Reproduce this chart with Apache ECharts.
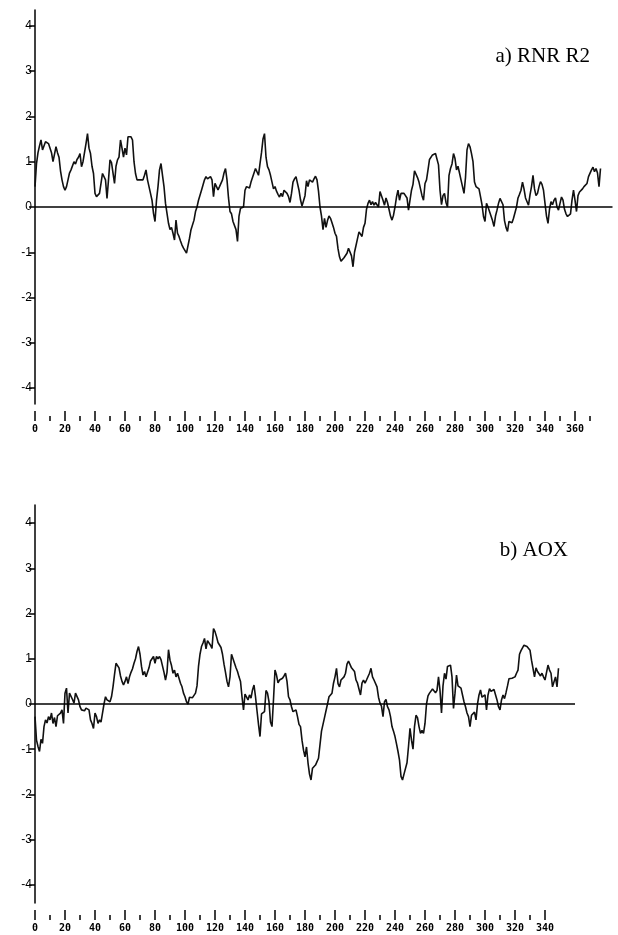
<!DOCTYPE html>
<html>
<head>
<meta charset="utf-8">
<title>RNR R2 / AOX</title>
<script src="https://cdn.jsdelivr.net/npm/echarts@6/dist/echarts.min.js"></script>
<style>
html,body{margin:0;padding:0;background:#fff;}
#charts{width:618px;height:935px;}
</style>
</head>
<body>
<div id="charts"></div>
<script>
// a) RNR R2 - one value per residue
var rnrValues = [
	0.45, 0.96, 1.2, 1.35, 1.48, 1.26, 1.3, 1.44, 1.42, 1.4,
	1.38, 1.2, 1.0, 0.96, 1.33, 1.2, 1.1, 0.8, 0.6, 0.45,
	0.37, 0.45, 0.6, 0.75, 0.82, 0.8, 1.0, 0.95, 1.05, 1.1,
	1.18, 0.89, 1.0, 1.04, 1.4, 1.62, 1.3, 1.18, 0.9, 0.74,
	0.3, 0.23, 0.25, 0.3, 0.52, 0.74, 0.7, 0.6, 0.19, 0.6,
	1.04, 0.98, 1.0, 0.52, 0.9, 1.04, 1.1, 1.48, 1.3, 1.1,
	1.3, 1.15, 1.55, 1.58, 1.55, 1.48, 1.0, 0.74, 0.6, 0.62,
	0.6, 0.62, 0.6, 0.7, 0.82, 0.6, 0.45, 0.3, 0.15, -0.14,
	-0.32, 0.15, 0.45, 0.82, 0.96, 0.7, 0.45, 0.08, -0.14, -0.36,
	-0.5, -0.45, -0.58, -0.73, -0.29, -0.58, -0.65, -0.75, -0.84, -0.91,
	-0.95, -1.02, -1.05, -0.69, -0.5, -0.48, -0.29, -0.1, 0.0, 0.15,
	0.15, 0.37, 0.4, 0.6, 0.67, 0.62, 0.64, 0.67, 0.6, 0.23,
	0.52, 0.45, 0.38, 0.45, 0.48, 0.6, 0.75, 0.85, 0.6, 0.2,
	-0.1, -0.15, -0.32, -0.28, -0.5, -0.76, -0.2, -0.03, -0.02, 0.0,
	0.37, 0.45, 0.49, 0.42, 0.55, 0.65, 0.75, 0.85, 0.89, 0.7,
	0.96, 1.2, 1.5, 1.62, 1.1, 0.89, 0.82, 0.7, 0.55, 0.4,
	0.45, 0.35, 0.28, 0.22, 0.3, 0.23, 0.37, 0.34, 0.3, 0.23,
	0.1, 0.3, 0.55, 0.62, 0.67, 0.66, 0.37, 0.16, 0.02, -0.02,
	0.25, 0.58, 0.45, 0.6, 0.62, 0.55, 0.62, 0.68, 0.6, 0.35,
	0.0, -0.2, -0.5, -0.25, -0.45, -0.3, -0.2, -0.25, -0.35, -0.45,
	-0.58, -0.65, -0.92, -1.1, -1.2, -1.18, -1.12, -1.08, -1.02, -0.91,
	-0.95, -1.08, -1.32, -1.0, -0.85, -0.7, -0.55, -0.55, -0.65, -0.45,
	-0.36, -0.05, 0.08, 0.15, 0.05, 0.12, 0.04, 0.1, 0.12, 0.0,
	0.34, 0.34, 0.15, 0.04, 0.2, 0.1, -0.05, -0.2, -0.29, -0.18,
	0.0, 0.22, 0.37, 0.15, 0.3, 0.34, 0.3, 0.26, 0.2, -0.07,
	0.15, 0.37, 0.5, 0.8, 0.78, 0.65, 0.55, 0.4, 0.25, 0.15,
	0.52, 0.6, 0.82, 1.05, 1.03, 1.15, 1.16, 1.18, 1.15, 0.93,
	0.37, 0.05, 0.25, 0.3, 0.1, 0.0, 0.7, 0.85, 0.95, 1.18,
	1.07, 0.82, 0.9, 0.75, 0.6, 0.45, 0.3, 0.65, 1.26, 1.4,
	1.33, 1.18, 1.0, 0.55, 0.45, 0.45, 0.4, 0.23, 0.05, -0.21,
	-0.32, 0.08, 0.0, -0.1, -0.2, -0.3, -0.43, -0.2, -0.07, 0.08,
	0.19, 0.15, 0.05, -0.3, -0.45, -0.54, -0.32, -0.28, -0.35, -0.25,
	-0.25, 0.0, 0.2, 0.28, 0.37, 0.55, 0.4, 0.2, 0.22, 0.04,
	0.27, 0.45, 0.7, 0.4, 0.25, 0.3, 0.45, 0.56, 0.5, 0.37,
	0.08, -0.2, -0.36, -0.05, 0.12, 0.05, 0.15, 0.2, 0.0, -0.07,
	0.08, 0.22, 0.15, -0.05, -0.15, -0.21, -0.21, -0.15, 0.15, 0.37,
	0.15, -0.1, 0.25, 0.33, 0.36, 0.4, 0.45, 0.48, 0.52, 0.67,
	0.7, 0.82, 0.88, 0.78, 0.85, 0.75, 0.45, 0.85
];

// b) AOX
var aoxValues = [
	-0.28, -0.8, -0.94, -1.05, -0.78, -0.87, -0.5, -0.35, -0.42, -0.28,
	-0.35, -0.2, -0.43, -0.3, -0.5, -0.26, -0.22, -0.2, -0.13, -0.43,
	0.24, 0.35, -0.2, 0.24, 0.24, 0.1, 0.02, 0.24, 0.24, 0.09,
	-0.06, -0.13, -0.1, -0.15, -0.09, -0.06, -0.13, -0.35, -0.43, -0.54,
	-0.2, -0.28, -0.43, -0.35, -0.4, -0.2, 0.0, 0.16, 0.09, 0.09,
	0.05, 0.16, 0.38, 0.65, 0.9, 0.94, 0.8, 0.62, 0.5, 0.42,
	0.5, 0.6, 0.45, 0.6, 0.7, 0.78, 0.9, 1.0, 1.16, 1.27,
	1.1, 0.83, 0.64, 0.72, 0.6, 0.7, 0.8, 0.95, 0.97, 1.05,
	0.9, 1.05, 1.0, 1.05, 0.98, 1.0, 0.7, 0.53, 0.7, 1.2,
	0.97, 0.85, 0.68, 0.75, 0.6, 0.68, 0.72, 0.46, 0.38, 0.24,
	0.16, 0.05, 0.0, 0.15, 0.12, 0.14, 0.16, 0.24, 0.4, 0.83,
	1.1, 1.27, 1.35, 1.45, 1.22, 1.4, 1.43, 1.3, 1.23, 1.67,
	1.6, 1.49, 1.36, 1.38, 1.25, 1.1, 0.88, 0.7, 0.5, 0.38,
	0.6, 1.1, 1.12, 0.9, 0.8, 0.72, 0.6, 0.5, 0.16, -0.13,
	0.22, 0.24, 0.09, 0.2, 0.13, 0.31, 0.42, 0.16, -0.15, -0.45,
	-0.72, -0.22, -0.2, -0.17, 0.3, 0.24, 0.05, -0.4, -0.5, 0.1,
	0.75, 0.64, 0.47, 0.53, 0.53, 0.57, 0.62, 0.68, 0.5, 0.16,
	0.09, -0.06, -0.17, -0.2, -0.13, -0.28, -0.45, -0.5, -0.8, -1.02,
	-1.17, -0.95, -1.3, -1.55, -1.68, -1.42, -1.39, -1.35, -1.32, -1.2,
	-0.9, -0.6, -0.45, -0.3, -0.15, 0.0, 0.16, 0.2, 0.24, 0.46,
	0.6, 0.79, 0.45, 0.38, 0.53, 0.57, 0.6, 0.68, 0.88, 0.95,
	0.97, 0.8, 0.84, 0.72, 0.53, 0.46, 0.5, 0.2, 0.46, 0.53,
	0.46, 0.53, 0.56, 0.68, 0.79, 0.6, 0.53, 0.53, 0.38, 0.15,
	0.02, -0.05, -0.28, 0.05, 0.1, -0.06, -0.13, -0.28, -0.5, -0.6,
	-0.72, -0.88, -1.05, -1.24, -1.6, -1.68, -1.55, -1.52, -1.3, -0.94,
	-0.54, -0.8, -1.0, -0.5, -0.25, -0.3, -0.5, -0.65, -0.58, -0.65,
	-0.43, 0.0, 0.18, 0.24, 0.27, 0.33, 0.3, 0.25, 0.3, 0.6,
	0.3, -0.2, 0.4, 0.68, 0.55, 0.83, 0.84, 0.86, 0.6, -0.1,
	0.24, 0.64, 0.4, 0.42, 0.35, 0.2, 0.05, -0.06, -0.2, -0.28,
	-0.5, -0.25, -0.28, -0.18, -0.35, 0.0, 0.2, 0.31, 0.15, 0.16,
	0.2, -0.13, 0.2, 0.34, 0.28, 0.3, 0.32, 0.35, 0.09, -0.06,
	-0.13, 0.09, 0.2, 0.12, 0.25, 0.4, 0.56, 0.6, 0.57, 0.53,
	0.6, 0.68, 0.75, 1.1, 1.18, 1.21, 1.3, 1.3, 1.27, 1.24,
	1.19, 0.97, 0.79, 0.6, 0.8, 0.72, 0.75, 0.62, 0.68, 0.6,
	0.53, 0.53, 0.86, 0.75, 0.68, 0.38, 0.38, 0.6, 0.38, 0.79
];

// tick values
var yTicks = [-4, -3, -2, -1, 0, 1, 2, 3, 4];
var rnrMajor = [0, 20, 40, 60, 80, 100, 120, 140, 160, 180, 200, 220, 240, 260, 280, 300, 320, 340, 360];
var rnrMinor = [10, 30, 50, 70, 90, 110, 130, 150, 170, 190, 210, 230, 250, 270, 290, 310, 330, 350, 370];
var aoxMajor = [0, 20, 40, 60, 80, 100, 120, 140, 160, 180, 200, 220, 240, 260, 280, 300, 320, 340];
var aoxMinor = [10, 30, 50, 70, 90, 110, 130, 150, 170, 190, 210, 230, 250, 270, 290, 310, 330];

function toPoints(arr){
	var pts = [];
	for(var i=0;i<arr.length;i++){
		pts.push([i, arr[i]]);
	}
	return pts;
}

// x轴：长刻度带标签 + 短刻度（不贴在0线上）
function xAxes(gridIndex, max, major, minor){
	return [{
		type: 'value', gridIndex: gridIndex, min: 0, max: max,
		position: 'bottom', offset: 17,
		axisLine: {show: false, onZero: false},
		splitLine: {show: false},
		axisTick: {show: true, inside: true, length: 10, customValues: major,
			lineStyle: {color: '#000', width: 1.5}},
		axisLabel: {show: true, customValues: major, margin: 3,
			color: '#000', fontSize: 10, fontWeight: 'bold', fontFamily: 'DejaVu Sans Mono'}
	},{
		type: 'value', gridIndex: gridIndex, min: 0, max: max,
		position: 'bottom', offset: 17,
		axisLine: {show: false, onZero: false},
		splitLine: {show: false},
		axisTick: {show: true, inside: true, length: 5, customValues: minor,
			lineStyle: {color: '#000', width: 1.5}},
		axisLabel: {show: false}
	}];
}

function yAxis(gridIndex, lim){
	return {
		type: 'value', gridIndex: gridIndex, min: -lim, max: lim,
		axisLine: {show: true, onZero: false, lineStyle: {color: '#000', width: 1.5}},
		splitLine: {show: false},
		axisTick: {show: true, length: 6, customValues: yTicks,
			lineStyle: {color: '#000', width: 1.5}},
		axisLabel: {show: true, customValues: yTicks, margin: 3,
			color: '#000', fontSize: 12, fontFamily: 'Liberation Sans'}
	};
}

function lineSeries(xi, yi, arr){
	return {
		type: 'line',
		xAxisIndex: xi, yAxisIndex: yi,
		data: toPoints(arr),
		showSymbol: false,
		lineStyle: {color: '#111', width: 1.6},
		markLine: {
			silent: true,
			symbol: ['none', 'none'],
			label: {show: false},
			lineStyle: {color: '#000', width: 1.5, type: 'solid'},
			data: [{yAxis: 0}]
		}
	};
}

var charts = echarts.init(document.getElementById('charts'));
var option = {
	animation: false,
	backgroundColor: '#fff',
	grid: [
		{left: 35, top: 10, width: 577.5, height: 394},
		{left: 35, top: 505, width: 540, height: 398}
	],
	xAxis: xAxes(0, 385, rnrMajor, rnrMinor).concat(xAxes(1, 360, aoxMajor, aoxMinor)),
	yAxis: [yAxis(0, 4.35), yAxis(1, 4.4)],
	series: [
		lineSeries(0, 0, rnrValues),
		lineSeries(2, 1, aoxValues)
	],
	graphic: [{
		type: 'text', right: 28, top: 46,
		style: {text: 'a) RNR R2', font: '21px "Liberation Serif"', fill: '#000'}
	},{
		type: 'text', right: 50, top: 540,
		style: {text: 'b) AOX', font: '21px "Liberation Serif"', fill: '#000'}
	}]
};
charts.setOption(option);
</script>
</body>
</html>
